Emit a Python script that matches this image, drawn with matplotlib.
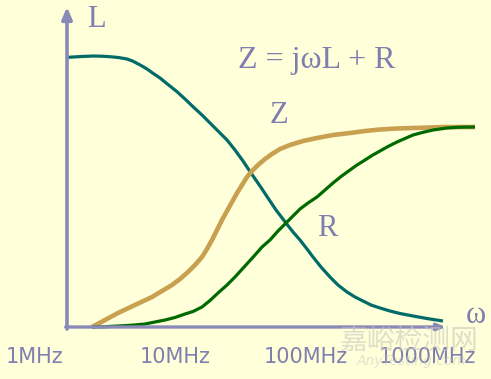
import matplotlib
matplotlib.use("Agg")
import matplotlib.pyplot as plt

# schematic diagram, coordinates in picture units (x to the right, y downward)
L_x = [68, 80, 93, 102, 110, 119, 127, 132, 137, 142, 147, 153, 160, 168, 177, 185, 193, 202, 210, 218,
       227, 235, 243, 251, 260, 268, 276, 286, 293, 300, 307, 313, 321, 330, 338, 347, 355, 363, 371, 380,
       390, 400, 413, 428, 443]
L_y = [57.3, 56.6, 56, 56.2, 56.7, 57.6, 59, 60.8, 63.3, 66, 69, 73.3, 78, 84.5, 91.7, 99, 106.7, 115, 123, 131,
       140, 150, 161, 173, 186, 198, 210, 223, 232, 240, 249, 257, 267, 277, 285, 292, 297, 301, 305, 308,
       311, 313.5, 316, 318.7, 321]

Z_x = [92, 105, 118, 135, 152, 162, 172, 180, 188, 195, 202, 207, 212, 217, 222, 227, 232, 237, 242, 247,
       252, 258, 265, 272, 280, 290, 303, 317, 333, 350, 365, 380, 397, 413, 430, 445, 460, 475]
Z_y = [327, 320, 313, 305, 297, 291, 285, 279, 272, 265, 257, 249, 240, 230, 220, 211, 202, 193, 185, 177,
       171, 165, 159, 154, 149, 145, 141, 138, 135, 133, 131, 129.5, 128.5, 128, 127.5, 127, 127, 127]

R_x = [92, 105, 118, 132, 145, 155, 165, 175, 185, 193, 202, 210, 218, 227, 235, 245, 255, 262, 270, 278,
       286, 293, 300, 308, 317, 325, 333, 341, 350, 357, 365, 372, 380, 388, 397, 405, 413, 423, 433, 440,
       447, 460, 475]
R_y = [327, 326.7, 326, 325.2, 324, 322, 320, 317.5, 314, 311.5, 307, 300.5, 293, 285, 277, 266, 255, 247, 240, 231,
       223, 216, 209, 203, 197, 190, 183, 176.5, 170, 165, 160, 155.5, 151, 146.5, 142, 138.5, 135, 132.3, 130, 129,
       128, 127.2, 127]

tick_labels = ["1MHz", "10MHz", "100MHz", "1000MHz"]
tick_pos = [35, 175, 306, 427]

bg = "#FFFFD9"
axis_col = "#8A8AB8"
text_col = "#7E7EB0"
serif = ["Liberation Serif", "DejaVu Serif"]

fig = plt.figure(figsize=(4.91, 3.79), dpi=100, facecolor=bg)
ax = fig.add_axes([0, 0, 1, 1])
ax.set_facecolor(bg)
ax.set_xlim(0, 491)
ax.set_ylim(379, 0)
ax.axis("off")

# axes arrows
ax.annotate("", xy=(67, 7), xytext=(67, 329),
            arrowprops=dict(arrowstyle="-|>,head_length=0.7,head_width=0.3", color=axis_col,
                            lw=2.6, shrinkA=0, shrinkB=0))
ax.annotate("", xy=(446, 327), xytext=(65.7, 327),
            arrowprops=dict(arrowstyle="-|>,head_length=0.5,head_width=0.2", color=axis_col,
                            lw=2.4, shrinkA=0, shrinkB=0))

ax.plot(L_x, L_y, color="#006B68", lw=2.3, solid_capstyle="butt", solid_joinstyle="round")
ax.plot(Z_x, Z_y, color="#C8A050", lw=3.3, solid_capstyle="butt", solid_joinstyle="round")
ax.plot(R_x, R_y, color="#006A00", lw=2.3, solid_capstyle="butt", solid_joinstyle="round")

ax.text(87, 27, "L", family=serif, fontsize=22, color=text_col, va="baseline", ha="left")
ax.text(238, 68, "Z = jωL + R", family=serif, fontsize=23, color=text_col, va="baseline", ha="left")
ax.text(270, 123, "Z", family=serif, fontsize=22, color=text_col, va="baseline", ha="left")
ax.text(317, 236, "R", family=serif, fontsize=22, color=text_col, va="baseline", ha="left")
ax.text(466, 323, "ω", family=serif, fontsize=22, color=text_col, va="baseline", ha="left")

for p, lab in zip(tick_pos, tick_labels):
    ax.text(p, 363, lab, family="DejaVu Sans", fontsize=15, color=text_col, va="baseline", ha="center")

# faint watermark
ax.text(409, 349, "嘉峪检测网", family=["Noto Sans CJK SC", "DejaVu Sans"], fontsize=20,
        color="#C8C8C0", alpha=0.6, ha="center", va="baseline")
ax.text(412, 365, "AnyTesting.com", family="DejaVu Sans", style="italic", fontsize=10,
        color="#C8C8C0", alpha=0.5, ha="center", va="baseline")

fig.savefig("out.png", dpi=100, facecolor=bg)
